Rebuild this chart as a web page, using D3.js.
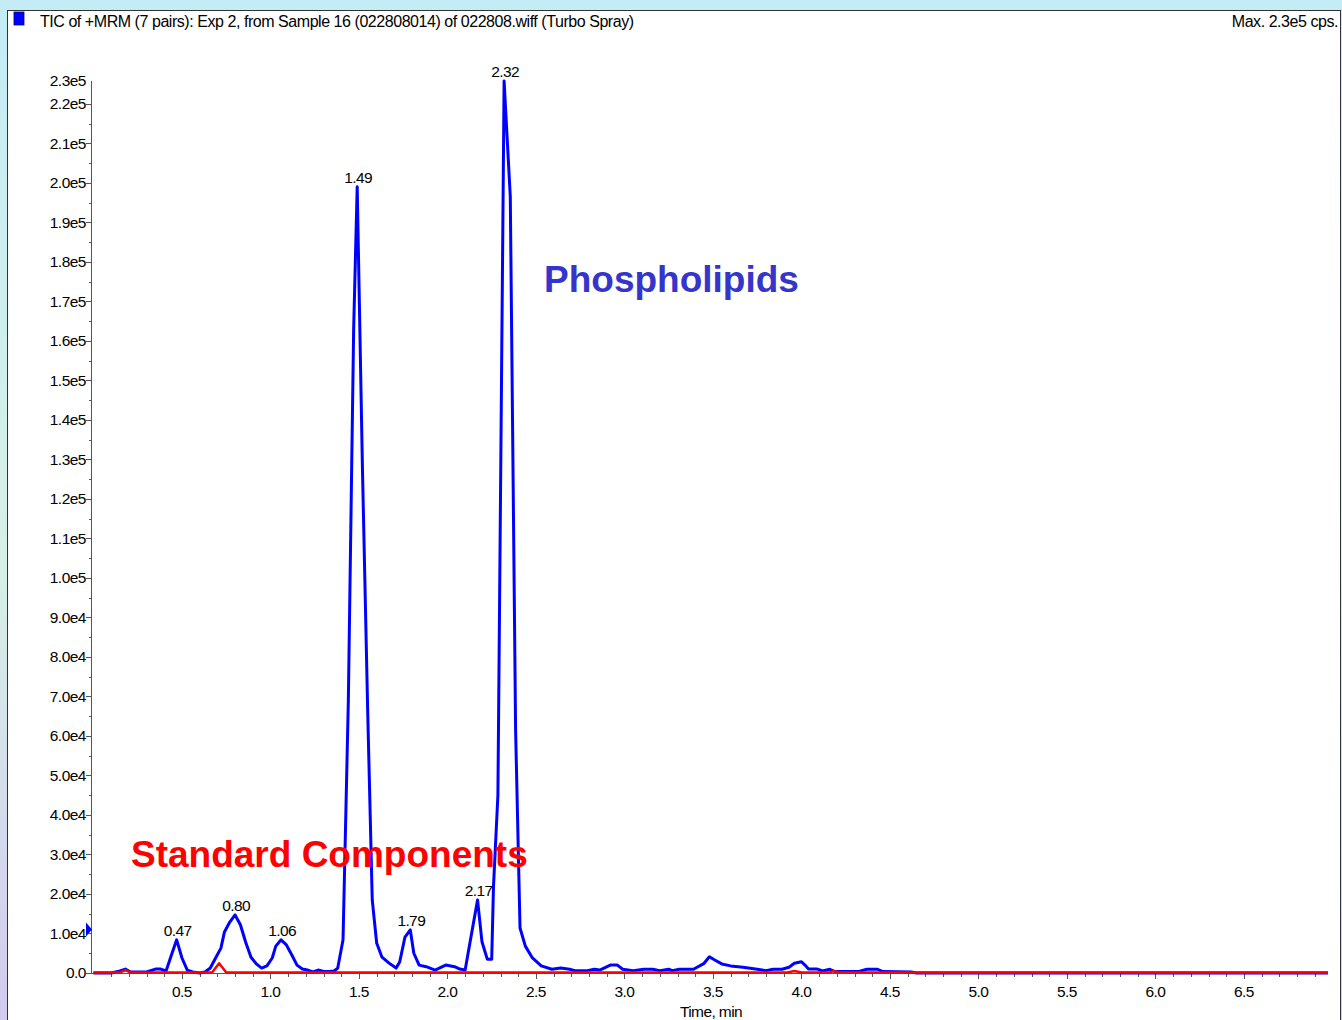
<!DOCTYPE html>
<html>
<head>
<meta charset="utf-8">
<script src="https://cdn.jsdelivr.net/npm/d3@7"></script>
<style>
  body { margin: 0; overflow: hidden; }
  text { font-family: "Liberation Sans", Arial, sans-serif; }
</style>
</head>
<body>
<svg id="chart" width="1342" height="1020"></svg>
<script>
// TIC trace (blue), time in min / intensity in cps
const ticTime = [0.00, 0.10, 0.15, 0.18, 0.21, 0.30, 0.35, 0.38, 0.41, 0.44, 0.47, 0.50, 0.53, 0.56, 0.60,
  0.63, 0.66, 0.69, 0.72, 0.74, 0.77, 0.80, 0.83, 0.86, 0.89, 0.92, 0.95, 0.98, 1.01, 1.03, 1.06, 1.09,
  1.12, 1.15, 1.18, 1.21, 1.24, 1.27, 1.30, 1.33, 1.36, 1.38, 1.41, 1.44, 1.47, 1.49, 1.52, 1.55, 1.575,
  1.60, 1.63, 1.67, 1.71, 1.73, 1.76, 1.79, 1.81, 1.84, 1.88, 1.93, 1.99, 2.04, 2.07, 2.10, 2.13, 2.17,
  2.195, 2.225, 2.25, 2.26, 2.285, 2.32, 2.355, 2.385, 2.41, 2.44, 2.48, 2.53, 2.59, 2.64, 2.69, 2.72,
  2.79, 2.83, 2.86, 2.92, 2.96, 2.99, 3.05, 3.11, 3.16, 3.20, 3.25, 3.27, 3.31, 3.39, 3.45, 3.48, 3.51,
  3.55, 3.60, 3.67, 3.75, 3.80, 3.84, 3.89, 3.93, 3.96, 4.00, 4.02, 4.04, 4.09, 4.12, 4.16, 4.19, 4.25,
  4.32, 4.37, 4.43, 4.46, 4.62, 4.65, 6.975];
const ticValue = [0, 0, 500, 1000, 250, 250, 1000, 1000, 500, 4500, 8400, 3800, 750, 250, 0,
  250, 1250, 3800, 6300, 10400, 12900, 14700, 12200, 7800, 4000, 2300, 1250, 1800, 3800, 6800, 8400, 7100,
  4600, 2000, 1000, 750, 250, 750, 400, 400, 500, 1250, 8400, 69000, 163000, 199000, 127000, 65000, 18500,
  7600, 4000, 2500, 1250, 2800, 9100, 10900, 5000, 2000, 1600, 750, 2000, 1600, 1000, 750, 8400, 18500,
  7900, 3500, 3500, 21800, 45000, 225800, 196500, 61500, 11400, 6800, 3800, 1800, 950, 1250, 950, 600,
  600, 950, 750, 2000, 2000, 950, 600, 950, 950, 600, 950, 600, 950, 950, 2450, 4100, 3300,
  2300, 1800, 1450, 950, 600, 950, 950, 1450, 2450, 2850, 2000, 1000, 1000, 500, 950, 350, 350,
  350, 950, 950, 350, 250, 0, 0];

// standard components trace (red)
const stdTime = [0.00, 0.15, 0.18, 0.21, 0.67, 0.71, 0.75, 3.92, 3.96, 4.00, 4.16, 4.18, 4.21, 6.975];
const stdValue = [150, 150, 700, 150, 150, 2450, 150, 150, 500, 150, 150, 500, 150, 150];

const peakLabels = ["0.47", "0.80", "1.06", "1.49", "1.79", "2.17", "2.32"];

const yTicks = d3.range(0, 230000, 10000);
const yTickLabels = ["0.0", "1.0e4", "2.0e4", "3.0e4", "4.0e4", "5.0e4", "6.0e4", "7.0e4", "8.0e4", "9.0e4",
  "1.0e5", "1.1e5", "1.2e5", "1.3e5", "1.4e5", "1.5e5", "1.6e5", "1.7e5", "1.8e5", "1.9e5", "2.0e5",
  "2.1e5", "2.2e5"];
const yMaxLabel = "2.3e5";
const xTicks = [0.5, 1.0, 1.5, 2.0, 2.5, 3.0, 3.5, 4.0, 4.5, 5.0, 5.5, 6.0, 6.5];

const svg = d3.select("#chart");

// backdrop
const defs = svg.append("defs");
const grad = defs.append("linearGradient").attr("id", "bg")
  .attr("x1", 0).attr("y1", 0).attr("x2", 0).attr("y2", 1);
grad.append("stop").attr("offset", "0%").attr("stop-color", "#c4ecf6");
grad.append("stop").attr("offset", "55%").attr("stop-color", "#d6f0e6");
grad.append("stop").attr("offset", "100%").attr("stop-color", "#d2caf0");
svg.append("rect").attr("width", 1342).attr("height", 1020).attr("fill", "url(#bg)");
svg.append("rect")
  .attr("x", 7.5).attr("y", 10.5).attr("width", 1333).attr("height", 1020)
  .attr("fill", "#fff").attr("stroke", "#333").attr("stroke-width", 1);

// header
svg.append("rect").attr("x", 14).attr("y", 12).attr("width", 10).attr("height", 13)
  .attr("fill", "#0000ff").attr("stroke", "#000080").attr("stroke-width", 0.8);
svg.append("text").attr("x", 40).attr("y", 27)
  .attr("font-size", 16).attr("letter-spacing", -0.45)
  .text("TIC of +MRM (7 pairs): Exp 2, from Sample 16 (022808014) of 022808.wiff (Turbo Spray)");
svg.append("text").attr("x", 1338).attr("y", 27).attr("text-anchor", "end")
  .attr("font-size", 16).attr("letter-spacing", -0.45)
  .text("Max. 2.3e5 cps.");

const x = d3.scaleLinear().domain([-0.014, 6.975]).range([91, 1328]);
const y = d3.scaleLinear().domain([0, 225800]).range([973, 81]);

// y axis
const yAxis = svg.append("g");
yAxis.append("line").attr("x1", 91.5).attr("x2", 91.5).attr("y1", y(225800)).attr("y2", y(0))
  .attr("stroke", "#555");
yAxis.selectAll("line.minor").data(d3.range(5000, 225000, 10000)).enter().append("line")
  .attr("class", "minor")
  .attr("x1", 89).attr("x2", 91.5)
  .attr("y1", d => Math.round(y(d)) + 0.5).attr("y2", d => Math.round(y(d)) + 0.5)
  .attr("stroke", "#555");
yAxis.selectAll("line.major").data(yTicks).enter().append("line")
  .attr("class", "major")
  .attr("x1", 86).attr("x2", 91.5)
  .attr("y1", d => Math.round(y(d)) + 0.5).attr("y2", d => Math.round(y(d)) + 0.5)
  .attr("stroke", "#555");
yAxis.selectAll("text").data(yTicks).enter().append("text")
  .attr("x", 86).attr("y", d => y(d)).attr("dy", "0.35em")
  .attr("text-anchor", "end").attr("font-size", 15.5).attr("letter-spacing", -0.5)
  .text((d, i) => yTickLabels[i]);
yAxis.append("text").attr("x", 86).attr("y", y(225800)).attr("dy", "0.35em")
  .attr("text-anchor", "end").attr("font-size", 15.5).attr("letter-spacing", -0.5)
  .text(yMaxLabel);

// x axis
const xAxis = svg.append("g");
xAxis.append("line").attr("x1", 91).attr("x2", 1328).attr("y1", 973.5).attr("y2", 973.5)
  .attr("stroke", "#555");
xAxis.selectAll("line.minor").data(d3.range(1, 70).map(d => d / 10)).enter().append("line")
  .attr("class", "minor")
  .attr("x1", d => Math.round(x(d)) + 0.5).attr("x2", d => Math.round(x(d)) + 0.5)
  .attr("y1", 973.5).attr("y2", 977)
  .attr("stroke", "#555");
xAxis.selectAll("line.major").data(xTicks).enter().append("line")
  .attr("class", "major")
  .attr("x1", d => Math.round(x(d)) + 0.5).attr("x2", d => Math.round(x(d)) + 0.5)
  .attr("y1", 973.5).attr("y2", 979)
  .attr("stroke", "#555");
xAxis.selectAll("text").data(xTicks).enter().append("text")
  .attr("x", d => x(d)).attr("y", 997)
  .attr("text-anchor", "middle").attr("font-size", 15.5).attr("letter-spacing", -0.6)
  .text(d => d.toFixed(1));
xAxis.append("text").attr("x", 711).attr("y", 1017)
  .attr("text-anchor", "middle").attr("font-size", 15.5).attr("letter-spacing", -0.6)
  .text("Time, min");

// marker on y axis
svg.append("path")
  .attr("d", `M86,${y(11000) - 7}L92,${y(11000)}L86,${y(11000) + 7}Z`)
  .attr("fill", "#0000ff");

// traces
const line = d3.line().x(d => x(d[0])).y(d => y(d[1]));
svg.append("path").datum(d3.zip(ticTime, ticValue))
  .attr("d", line).attr("fill", "none")
  .attr("stroke", "#0000ff").attr("stroke-width", 3).attr("stroke-linejoin", "round");
svg.append("path").datum(d3.zip(stdTime, stdValue))
  .attr("d", line).attr("fill", "none")
  .attr("stroke", "#ff0000").attr("stroke-width", 2.5).attr("stroke-linejoin", "round");

// peak labels
svg.selectAll("text.peak").data(peakLabels).enter().append("text")
  .attr("class", "peak")
  .attr("x", d => x(+d) + 1)
  .attr("y", d => {
    const i = d3.minIndex(ticTime, t => Math.abs(t - +d));
    return y(ticValue[i]) - 4;
  })
  .attr("text-anchor", "middle").attr("font-size", 15.5).attr("letter-spacing", -0.6)
  .text(d => d);

// annotations
svg.append("text").attr("x", 544).attr("y", 292)
  .attr("font-size", 37).attr("font-weight", "bold").attr("fill", "#3535cc")
  .text("Phospholipids");
svg.append("text").attr("x", 131).attr("y", 867)
  .attr("font-size", 37).attr("font-weight", "bold").attr("fill", "#ff0000")
  .text("Standard Components");
</script>
</body>
</html>
